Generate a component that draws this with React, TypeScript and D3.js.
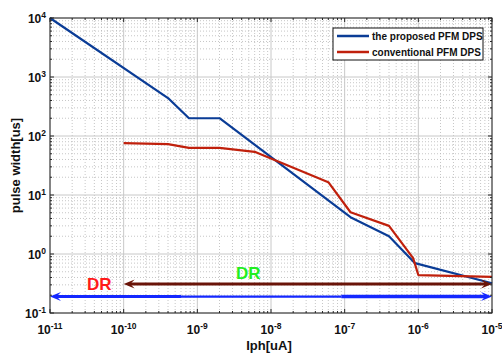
import React from "react";
import * as d3 from "d3";

const W = 502, H = 356;
const M = { left: 50, right: 10, top: 18, bottom: 43 };

const proposedX = [1e-11, 4e-10, 7.7e-10, 2e-9, 1.2e-7, 4e-7, 9e-7, 1e-5];
const proposedY = [1e4, 440, 200, 200, 4.2, 2.0, 0.7, 0.32];
const conventionalX = [1e-10, 4e-10, 7.7e-10, 2e-9, 6e-9, 6e-8, 1.2e-7, 4e-7, 8.5e-7, 1e-6, 1e-5];
const conventionalY = [76, 73, 63, 63, 54, 16.5, 5.1, 3.0, 0.85, 0.44, 0.41];

const xTickExps = [-11, -10, -9, -8, -7, -6, -5];
const yTickExps = [-1, 0, 1, 2, 3, 4];
const seriesNames = ["the proposed PFM DPS", "conventional PFM DPS"];
const seriesColors = ["#0a3c96", "#c0200c"];

// annotation arrows (data coordinates)
const drConvRange = [1e-10, 1e-5];
const drConvLevel = 0.31;
const drPropRange = [1e-11, 1e-5];
const drPropLevel = 0.19;

const FONT = "'Liberation Sans', Arial, sans-serif";

export default function App() {
  const x = d3.scaleLog().domain([1e-11, 1e-5]).range([M.left, W - M.right]);
  const y = d3.scaleLog().domain([1e-1, 1e4]).range([H - M.bottom, M.top]);
  const x0 = M.left, x1 = W - M.right, y0 = H - M.bottom, y1 = M.top;

  const minorX: number[] = [];
  for (let e = -11; e < -5; e++) for (let k = 2; k <= 9; k++) minorX.push(k * Math.pow(10, e));
  const minorY: number[] = [];
  for (let e = -1; e < 4; e++) for (let k = 2; k <= 9; k++) minorY.push(k * Math.pow(10, e));

  const line = d3.line<[number, number]>().x(d => x(d[0])).y(d => y(d[1]));
  const propPts = proposedX.map((v, i) => [v, proposedY[i]] as [number, number]);
  const convPts = conventionalX.map((v, i) => [v, conventionalY[i]] as [number, number]);

  const axisColor = "#262626";

  const arrowHead = (tipX: number, yy: number, dir: number, len: number, hw: number) => {
    const bx = tipX - dir * len;
    const nx = tipX - dir * len * 0.6;
    return `M${tipX},${yy} L${bx},${yy - hw} L${nx},${yy} L${bx},${yy + hw} Z`;
  };

  const yc = y(drConvLevel), yp = y(drPropLevel);

  return (
    <svg width={W} height={H} style={{ position: "absolute", left: 0, top: 0, background: "#fff" }}>
      <rect x={0} y={0} width={W} height={H} fill="#fff" />
      {/* minor grid */}
      {minorX.map((v, i) => (
        <line key={"mx" + i} x1={x(v)} x2={x(v)} y1={y0} y2={y1} stroke="#b8b8b8" strokeWidth={0.8} strokeDasharray="1,2" />
      ))}
      {minorY.map((v, i) => (
        <line key={"my" + i} x1={x0} x2={x1} y1={y(v)} y2={y(v)} stroke="#b8b8b8" strokeWidth={0.8} strokeDasharray="1,2" />
      ))}
      {/* major grid */}
      {xTickExps.map(e => (
        <line key={"gx" + e} x1={x(Math.pow(10, e))} x2={x(Math.pow(10, e))} y1={y0} y2={y1} stroke="#c8c8c8" strokeWidth={1} />
      ))}
      {yTickExps.map(e => (
        <line key={"gy" + e} x1={x0} x2={x1} y1={y(Math.pow(10, e))} y2={y(Math.pow(10, e))} stroke="#c8c8c8" strokeWidth={1} />
      ))}

      {/* data lines */}
      <path d={line(propPts) || ""} fill="none" stroke={seriesColors[0]} strokeWidth={2.2} strokeLinejoin="round" />
      <path d={line(convPts) || ""} fill="none" stroke={seriesColors[1]} strokeWidth={2.2} strokeLinejoin="round" />

      {/* DR arrows */}
      <line x1={x(drConvRange[0]) + 6} x2={x(drConvRange[1]) - 6} y1={yc} y2={yc} stroke="#6a1408" strokeWidth={3} />
      <path d={arrowHead(x(drConvRange[0]), yc, -1, 11, 4.5)} fill="#6a1408" />
      <path d={arrowHead(x(drConvRange[1]), yc, 1, 11, 4.5)} fill="#6a1408" />
      <line x1={x(drPropRange[0]) + 6} x2={x(6e-10)} y1={yp} y2={yp} stroke="#1428ff" strokeWidth={3} />
      <line x1={x(6e-10)} x2={x(9e-8)} y1={yp} y2={yp} stroke="#1428ff" strokeWidth={2.2} />
      <line x1={x(9e-8)} x2={x(drPropRange[1]) - 6} y1={yp} y2={yp} stroke="#1428ff" strokeWidth={3.6} />
      <path d={arrowHead(x(drPropRange[0]), yp, -1, 11, 4.5)} fill="#1428ff" />
      <path d={arrowHead(x(drPropRange[1]), yp, 1, 11, 4.5)} fill="#1428ff" />
      <text x={x(1e-11) + 37} y={yc + 6} fill="#ff1a1a" fontFamily={FONT} fontWeight="bold" fontSize={17}>DR</text>
      <text x={x(2.3e-9) + 12} y={yc - 5} fill="#22ee22" fontFamily={FONT} fontWeight="bold" fontSize={17}>DR</text>

      {/* axes box */}
      <rect x={x0} y={y1} width={x1 - x0} height={y0 - y1} fill="none" stroke={axisColor} strokeWidth={1} />
      {/* ticks inward */}
      {xTickExps.map(e => {
        const px = x(Math.pow(10, e));
        return (
          <g key={"tx" + e}>
            <line x1={px} x2={px} y1={y0} y2={y0 - 4} stroke={axisColor} />
            <line x1={px} x2={px} y1={y1} y2={y1 + 4} stroke={axisColor} />
          </g>
        );
      })}
      {minorX.map((v, i) => (
        <g key={"tmx" + i}>
          <line x1={x(v)} x2={x(v)} y1={y0} y2={y0 - 2} stroke={axisColor} />
          <line x1={x(v)} x2={x(v)} y1={y1} y2={y1 + 2} stroke={axisColor} />
        </g>
      ))}
      {yTickExps.map(e => {
        const py = y(Math.pow(10, e));
        return (
          <g key={"ty" + e}>
            <line x1={x0} x2={x0 + 4} y1={py} y2={py} stroke={axisColor} />
            <line x1={x1} x2={x1 - 4} y1={py} y2={py} stroke={axisColor} />
          </g>
        );
      })}
      {minorY.map((v, i) => (
        <g key={"tmy" + i}>
          <line x1={x0} x2={x0 + 2} y1={y(v)} y2={y(v)} stroke={axisColor} />
          <line x1={x1} x2={x1 - 2} y1={y(v)} y2={y(v)} stroke={axisColor} />
        </g>
      ))}

      {/* tick labels */}
      {xTickExps.map(e => (
        <text key={"lx" + e} x={x(Math.pow(10, e))} y={y0 + 21} textAnchor="middle" fontFamily={FONT} fontWeight="bold" fontSize={12} fill="#111">
          10<tspan fontSize={8.5} dy={-5}>{e}</tspan>
        </text>
      ))}
      {yTickExps.map(e => (
        <text key={"ly" + e} x={x0 - 4} y={y(Math.pow(10, e)) + 5} textAnchor="end" fontFamily={FONT} fontWeight="bold" fontSize={12} fill="#111">
          10<tspan fontSize={8.5} dy={-5}>{e}</tspan>
        </text>
      ))}

      {/* axis labels */}
      <text x={(x0 + x1) / 2 - 2} y={350} textAnchor="middle" fontFamily={FONT} fontWeight="bold" fontSize={13} fill="#111">Iph[uA]</text>
      <text transform={`translate(20,${(y0 + y1) / 2}) rotate(-90)`} textAnchor="middle" fontFamily={FONT} fontWeight="bold" fontSize={13} fill="#111">pulse width[us]</text>

      {/* legend */}
      <rect x={333} y={28} width={150} height={32} fill="#fff" stroke="#111" strokeWidth={1} />
      {seriesNames.map((n, i) => (
        <g key={n}>
          <line x1={337} x2={369} y1={36 + i * 16} y2={36 + i * 16} stroke={seriesColors[i]} strokeWidth={2.5} />
          <text x={372} y={40 + i * 16} fontFamily={FONT} fontWeight="bold" fontSize={10} fill="#111">{n}</text>
        </g>
      ))}
    </svg>
  );
}
